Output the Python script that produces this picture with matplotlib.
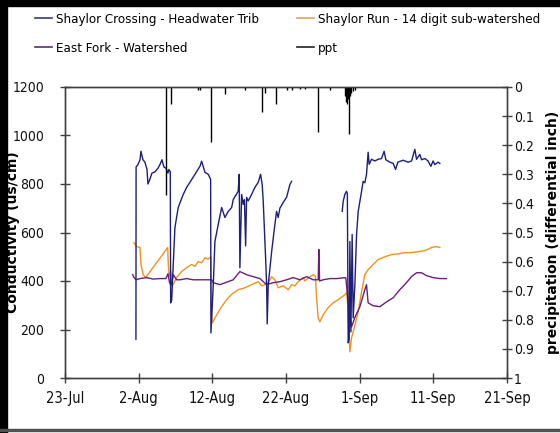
import numpy as np
import matplotlib
matplotlib.use("Agg")
import matplotlib.pyplot as plt
import matplotlib.dates as mdates
from matplotlib import font_manager as fm
from matplotlib.lines import Line2D
from matplotlib.patches import Rectangle

# ---- data: day offsets from 23-Jul, conductivity in uS/cm ----
sc_days = [9.63, 9.65, 9.90, 10.18, 10.31, 10.58, 10.85, 11.13, 11.26, 11.53, 11.80, 12.21,
           12.62, 12.89, 13.16, 13.43, 13.70, 13.98, 14.11, 14.29, 14.34, 14.48, 14.92, 15.37,
           16.05, 16.51, 16.96, 17.64, 18.32, 18.55, 19.00, 19.44, 19.77, 19.81, 20.13, 20.35,
           20.80, 21.26, 21.71, 22.16, 22.62, 22.84, 23.51, 23.65, 23.74, 23.98, 24.19, 24.36,
           24.52, 24.65, 24.87, 25.33, 25.78, 26.23, 26.55, 26.77, 26.91, 27.04, 27.23, 27.37,
           27.45, 27.59, 28.05, 28.49, 28.72, 28.94, 29.17, 29.62, 30.08, 30.53, 30.76,
           31.0,
           37.63, 37.76, 37.99, 38.22, 38.33, 38.44, 38.58, 38.67, 38.81, 38.98, 39.12, 39.35,
           39.58, 39.80, 40.26, 40.47, 40.70, 40.93, 41.15, 41.29, 41.61, 42.06, 42.51, 42.97,
           43.32, 43.55, 44.10, 44.55, 44.87, 45.18, 45.90, 46.58, 47.04, 47.49, 47.72, 48.17,
           48.40, 48.85, 49.29, 49.66, 49.97, 50.20, 50.65, 50.88]
sc_vals = [160, 870, 880, 900, 935, 900, 890, 860, 800, 820, 845, 850,
           865, 880, 900, 870, 865, 845, 860, 850, 310, 320, 620, 703,
           757, 786, 807, 840, 873, 894, 848, 840, 819, 186, 385, 563,
           633, 703, 662, 687, 703, 736, 770, 840, 455, 757, 716, 735,
           545, 745, 730, 757, 786, 807, 840, 798, 728, 633, 496, 385,
           223, 385, 521, 633, 687, 662, 700, 724, 745, 798, 811,
           np.nan,
           687, 728, 757, 770, 760, 145, 160, 563, 190, 592, 248, 385,
           592, 687, 770, 811, 805, 840, 931, 881, 902, 895, 902, 905,
           935, 900, 890, 885, 860, 890, 898, 890, 895, 943, 902, 922,
           900, 905, 895, 873, 895, 880, 890, 885]

sr_days = [9.36, 9.73, 10.18, 10.31, 10.62, 10.95, 13.94, 14.02, 14.15, 14.38, 14.52, 14.69,
           15.15, 15.83, 16.51, 17.19, 17.64, 18.09, 18.55, 19.00, 19.44, 19.81, 19.91, 19.99,
           20.58, 21.26, 21.94, 22.62, 23.51, 24.42, 25.33, 26.23, 26.69, 27.14, 27.59, 28.05,
           28.49, 28.94, 29.62, 30.30, 30.76, 31.21, 31.66, 32.34, 32.56, 33.24, 33.69, 33.99,
           34.15, 34.37, 34.60, 35.04, 35.72, 36.40, 37.08, 37.99, 38.22, 38.40, 38.67, 38.90,
           39.35, 39.80, 40.26, 40.70, 41.15, 41.83, 42.51, 43.42, 44.33, 45.23, 46.13, 47.04,
           47.94, 48.85, 49.76, 50.43, 50.88]
sr_vals = [558, 542, 538, 468, 426, 414, 538, 468, 420, 440, 390, 385,
           414, 439, 455, 468, 460, 480, 475, 496, 490, 500, 260, 227,
           260, 294, 323, 345, 364, 372, 385, 397, 380, 385, 392, 418,
           405, 372, 380, 364, 385, 380, 397, 414, 400, 418, 426, 420,
           331, 248, 232, 260, 290, 310, 323, 343, 352, 300, 108, 165,
           219, 273, 356, 426, 447, 468, 488, 500, 509, 512, 517, 517,
           521, 525, 538, 542, 538]

ef_days = [9.19, 9.36, 9.63, 10.18, 11.09, 11.94, 12.89, 13.70, 13.98, 14.18, 14.38, 14.69,
           15.15, 15.60, 16.51, 17.41, 18.32, 19.23, 19.91, 20.13, 21.03, 21.94, 22.84, 23.74,
           24.65, 25.55, 26.46, 27.37, 28.26, 29.17, 30.08, 30.98, 31.89, 32.79, 33.69, 34.37,
           34.46, 34.56, 35.04, 35.96, 36.87, 38.11, 38.38, 38.90, 39.35, 40.03, 40.70, 40.93,
           41.15, 41.83, 42.74, 43.66, 44.55, 45.45, 46.35, 47.04, 47.72, 48.40, 49.08, 49.98,
           50.88, 51.79]
ef_vals = [426, 415, 405, 410, 414, 408, 410, 410, 430, 395, 380, 426,
           405, 405, 410, 405, 405, 405, 405, 393, 385, 395, 405, 439,
           426, 418, 410, 385, 393, 397, 405, 414, 405, 418, 405, 405,
           530, 400, 405, 410, 410, 414, 330, 211, 250, 294, 364, 385,
           310, 298, 294, 314, 331, 364, 393, 418, 434, 434, 422, 414,
           410, 410]

# precipitation events (inches)
ppt_days = [13.70, 14.34, 18.00, 18.32, 19.81, 21.78, 24.42, 26.69, 27.14, 28.63, 30.08,
            30.76, 31.89, 32.56, 34.37, 35.96, 37.99, 38.20, 38.33, 38.44, 38.58, 38.71,
            38.87, 39.08, 39.35]
ppt_vals = [0.37, 0.06, 0.01, 0.012, 0.19, 0.025, 0.012, 0.087, 0.02, 0.06, 0.01,
            0.01, 0.008, 0.008, 0.155, 0.01, 0.03, 0.05, 0.06, 0.04, 0.16, 0.03,
            0.02, 0.015, 0.01]

labels = ["Shaylor Crossing - Headwater Trib", "Shaylor Run - 14 digit sub-watershed",
          "East Fork - Watershed", "ppt"]
xtick_days = [0, 10, 20, 30, 40, 50, 60]
cond_ticks = [0, 200, 400, 600, 800, 1000, 1200]
ppt_ticks = [0, 0.1, 0.2, 0.3, 0.4, 0.5, 0.6, 0.7, 0.8, 0.9, 1.0]

base = np.datetime64("2008-07-23T00:00")


def to_dates(days):
    return base + (np.asarray(days, dtype=float) * 1440).round().astype("timedelta64[m]")


def narrow_font(size):
    """Pick a condensed sans face if one is installed."""
    files = [f.fname for f in fm.fontManager.ttflist]
    for key in ("LiberationSansNarrow-Regular", "DejaVuSansCondensed.",
                "Condensed-Regular", "Narrow"):
        for fn in files:
            if key in fn and "Bold" not in fn and "Italic" not in fn and "Oblique" not in fn:
                return fm.FontProperties(fname=fn, size=size)
    return fm.FontProperties(family="DejaVu Sans", size=size * 0.85)


tick_font = narrow_font(10)
xtick_font = narrow_font(10.5)
legend_font = narrow_font(9.5)
label_font = fm.FontProperties(family="DejaVu Sans", weight="bold", size=10)
rlabel_font = fm.FontProperties(family="DejaVu Sans", weight="bold", size=10)

c_sc = "#1e1e7c"
c_sr = "#f0921e"
c_ef = "#6a1f78"
c_ppt = "#000000"
c_axis = "#404040"

fig = plt.figure(figsize=(5.6, 4.33), dpi=100)
ax = fig.add_axes([65 / 560, 1 - 378 / 433, (507 - 65) / 560, (378 - 87) / 433])
ax2 = ax.twinx()

ax.plot(to_dates(sr_days), sr_vals, color=c_sr, lw=1.0)
ax.plot(to_dates(ef_days), ef_vals, color=c_ef, lw=1.0)
ax.plot(to_dates(sc_days), sc_vals, color=c_sc, lw=1.0)
ax2.vlines(to_dates(ppt_days), 0, ppt_vals, color=c_ppt, lw=1.0)

ax.set_xlim(to_dates([0])[0], to_dates([60])[0])
ax.set_ylim(0, 1200)
ax2.set_ylim(1, 0)

ax.set_xticks(to_dates(xtick_days))
ax.xaxis.set_major_formatter(mdates.DateFormatter("%-d-%b"))
ax.set_yticks(cond_ticks)
ax.set_yticklabels([str(v) for v in cond_ticks])
ax2.set_yticks(ppt_ticks)
ax2.set_yticklabels(["0" if v == 0 else ("1" if v == 1 else f"{v:.1f}") for v in ppt_ticks])

for a in (ax, ax2):
    for s in a.spines.values():
        s.set_color(c_axis)
        s.set_linewidth(1.0)
    a.tick_params(direction="inout", length=7, width=1.0, color=c_axis,
                  labelcolor="#111111")
ax.tick_params(axis="y", pad=11.5)
ax.tick_params(axis="x", pad=6)
ax2.tick_params(axis="y", pad=1.5)
for lab in ax.get_yticklabels() + ax2.get_yticklabels():
    lab.set_fontproperties(tick_font)
for lab in ax.get_xticklabels():
    lab.set_fontproperties(xtick_font)

ax.set_ylabel("Conductivity (us/cm)", fontproperties=label_font)
ax.yaxis.set_label_coords((20 - 65) / 442, 0.5)
ax2.set_ylabel("precipitation (differential inch)", fontproperties=rlabel_font)
ax2.yaxis.set_label_coords((546 - 65) / 442, 0.5)

leg_kw = dict(loc="upper left", frameon=False, borderpad=0, borderaxespad=0,
              handlelength=1.3, handletextpad=0.3, labelspacing=1.2, prop=legend_font)
fig.legend([Line2D([], [], color="#3a3a84", lw=1.2),
            Line2D([], [], color="#5a2e72", lw=1.2)],
           [labels[0], labels[2]], bbox_to_anchor=(35 / 560, 1 - 13 / 433), **leg_kw)
fig.legend([Line2D([], [], color="#e3a262", lw=1.2),
            Line2D([], [], color="#222222", lw=1.2)],
           [labels[1], labels[3]], bbox_to_anchor=(297 / 560, 1 - 13 / 433), **leg_kw)

# frame around the figure
fig.patches.append(Rectangle((0, 0), 7 / 560, 1, transform=fig.transFigure,
                             color="black", zorder=10))
fig.patches.append(Rectangle((0, 1 - 6 / 433), 1, 6 / 433, transform=fig.transFigure,
                             color="black", zorder=10))
fig.patches.append(Rectangle((0, 2 / 433), 1, 2 / 433, transform=fig.transFigure,
                             color="#505050", zorder=10))

fig.savefig("out.png", dpi=100)
